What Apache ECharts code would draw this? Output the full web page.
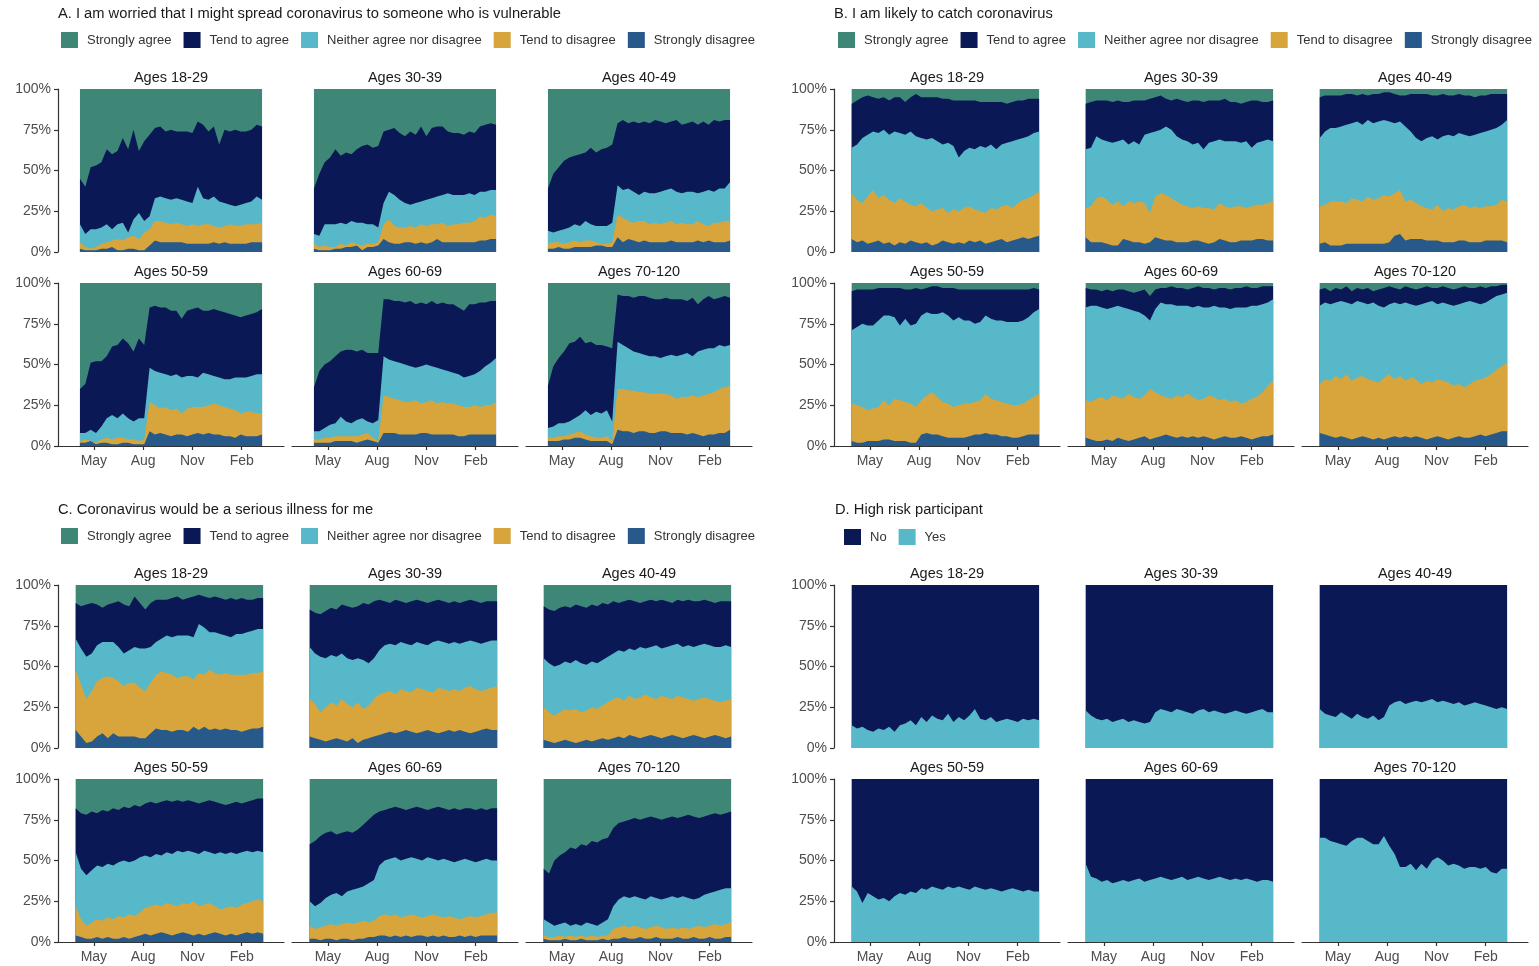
<!DOCTYPE html>
<html><head><meta charset="utf-8">
<script src="https://cdn.jsdelivr.net/npm/echarts@6/dist/echarts.min.js"></script>
<style>html,body{margin:0;padding:0;background:#fff}#c{width:1539px;height:966px}</style>
</head><body><div id="c"></div>
<script>
// ---------- categories / labels ----------
const titles = ['A. I am worried that I might spread coronavirus to someone who is vulnerable',
  'B. I am likely to catch coronavirus', 'C. Coronavirus would be a serious illness for me', 'D. High risk participant'];
const responses = ['Strongly agree','Tend to agree','Neither agree nor disagree','Tend to disagree','Strongly disagree'];
const riskLabels = ['No','Yes'];
const ageGroups = ['Ages 18-29','Ages 30-39','Ages 40-49','Ages 50-59','Ages 60-69','Ages 70-120'];
const tickDates = ['2020-05-01','2020-08-01','2020-11-01','2021-02-01'];
const tickLabels = ['May','Aug','Nov','Feb'];

// survey dates
const datesA = ['2020-04-05','2020-04-15','2020-04-25','2020-05-05','2020-05-15','2020-05-25','2020-06-04','2020-06-14','2020-06-24','2020-07-04','2020-07-14','2020-07-24','2020-08-03','2020-08-13','2020-08-23','2020-09-02','2020-09-12','2020-09-22','2020-10-02','2020-10-12','2020-10-22','2020-11-01','2020-11-11','2020-11-21','2020-12-01','2020-12-11','2020-12-21','2020-12-31','2021-01-10','2021-01-20','2021-01-30','2021-02-09','2021-02-19','2021-03-01','2021-03-11'];
const datesBCD = ['2020-03-28','2020-04-07','2020-04-17','2020-04-27','2020-05-07','2020-05-17','2020-05-27','2020-06-06','2020-06-16','2020-06-26','2020-07-06','2020-07-16','2020-07-26','2020-08-05','2020-08-15','2020-08-25','2020-09-04','2020-09-14','2020-09-24','2020-10-04','2020-10-14','2020-10-24','2020-11-03','2020-11-13','2020-11-23','2020-12-03','2020-12-13','2020-12-23','2021-01-02','2021-01-12','2021-01-22','2021-02-01','2021-02-11','2021-02-21','2021-03-03','2021-03-13'];

// ---------- values: cumulative % at the top of each band, counted from the bottom ----------
// _1 = Strongly disagree, _2 = + Tend to disagree, _3 = + Neither, _4 = + Tend to agree (rest = Strongly agree)
const A18_1 = [2,1,1,1,2,2,3,1,1,2,2,1,1,4,7,6,6,6,6,6,5,5,5,5,5,6,5,6,5,5,5,5,6,6,6];
const A18_2 = [6,3,2,3,5,6,7,8,7,9,10,8,12,14,19,19,18,17,18,17,16,17,16,17,17,16,15,16,17,16,16,17,17,17,18];
const A18_3 = [17,11,14,14,15,17,14,17,18,12,20,24,19,22,33,34,33,32,33,32,31,30,40,33,32,34,31,30,29,28,29,30,31,34,32];
const A18_4 = [45,40,52,53,55,63,60,62,70,63,75,62,68,72,76,77,74,75,74,74,74,73,80,78,74,77,66,75,74,75,74,74,75,78,77];
const A30_1 = [2,1,1,1,2,2,3,3,4,1,3,3,4,8,6,5,5,6,6,5,6,5,6,8,6,6,6,6,6,6,6,7,7,8,8];
const A30_2 = [5,3,4,3,3,5,4,6,5,4,5,5,6,17,20,16,15,15,16,15,17,16,17,17,18,16,17,17,18,18,19,22,21,23,22];
const A30_3 = [11,10,17,17,17,18,17,19,18,18,17,17,15,30,37,35,32,30,29,30,31,32,33,34,35,36,35,35,35,36,35,37,37,38,38];
const A30_4 = [39,48,55,58,63,59,61,60,63,65,66,64,65,74,75,76,73,71,74,72,77,71,76,77,77,74,73,73,72,74,73,77,78,79,78];
const A40_1 = [2,2,3,2,2,3,3,3,3,4,4,3,3,9,6,8,7,6,7,6,6,6,6,7,6,6,6,6,7,6,7,6,6,6,7];
const A40_2 = [5,6,6,5,6,7,6,7,7,6,5,5,6,23,21,19,18,19,19,17,18,17,18,19,17,18,17,17,19,17,16,18,18,19,19];
const A40_3 = [13,12,13,14,15,17,16,19,17,16,16,16,18,41,38,39,37,35,37,36,36,37,38,39,37,36,37,37,36,37,38,37,39,39,43];
const A40_4 = [39,48,52,56,58,59,60,61,64,61,63,64,66,79,81,79,80,79,80,79,81,80,79,80,81,78,79,80,78,80,78,81,80,81,81];
const A50_1 = [2,2,3,1,2,2,1,1,2,2,1,1,1,9,7,8,7,6,7,7,6,7,8,7,8,7,7,6,6,5,7,6,6,6,7];
const A50_2 = [3,4,3,2,4,5,4,5,5,4,4,3,4,27,25,23,24,22,23,20,23,24,24,24,25,26,25,24,23,22,20,21,21,20,20];
const A50_3 = [8,8,10,8,12,17,19,17,20,17,15,17,17,48,46,45,44,43,44,42,43,43,42,45,44,43,42,41,41,42,42,42,43,44,44];
const A50_4 = [35,38,51,52,52,55,61,62,66,63,58,66,62,85,86,85,85,83,83,78,83,84,85,83,83,84,83,82,81,80,79,80,81,82,84];
const A60_1 = [2,2,2,2,3,3,3,3,2,3,4,3,2,8,8,8,7,7,7,7,8,8,7,7,7,7,7,6,6,7,7,7,7,7,7];
const A60_2 = [4,4,5,5,6,6,6,6,6,7,8,5,3,31,30,29,28,27,27,28,26,27,28,26,27,26,26,25,24,24,25,24,25,25,27];
const A60_3 = [9,9,11,13,14,18,15,14,16,17,15,14,16,55,53,52,51,50,49,48,49,50,49,48,47,46,45,44,42,43,44,46,49,51,54];
const A60_4 = [36,46,50,52,55,58,59,59,58,59,57,57,57,90,90,89,89,88,89,87,88,87,89,87,88,87,87,85,83,87,87,88,88,89,89];
const A70_1 = [3,3,3,4,4,5,5,4,3,3,3,3,1,10,9,9,8,9,9,8,8,9,9,8,8,8,7,8,7,6,7,7,8,8,10];
const A70_2 = [5,5,6,6,7,8,9,7,6,5,5,6,3,35,35,34,34,33,33,32,32,32,32,31,29,30,30,31,30,31,32,33,35,36,37];
const A70_3 = [11,12,14,14,15,17,19,22,19,21,20,22,15,64,62,60,58,57,56,55,55,54,55,56,55,56,57,55,58,59,60,60,62,61,62];
const A70_4 = [37,49,54,58,63,64,67,63,64,62,62,61,60,93,92,92,91,92,92,91,90,90,91,90,90,90,89,91,87,90,92,90,91,92,91];

const B18_1 = [8,6,7,5,6,7,5,6,4,6,5,7,6,5,6,4,5,7,6,5,6,5,7,6,7,5,6,7,8,6,7,8,9,8,9,10];
const B18_2 = [36,32,30,34,38,33,35,32,30,33,31,29,28,30,27,25,26,27,24,26,25,27,28,26,25,24,27,26,28,29,27,30,32,33,35,37];
const B18_3 = [64,66,70,72,74,73,75,72,74,73,72,74,71,70,69,70,68,66,67,65,58,62,64,63,65,64,66,63,66,67,68,69,70,71,73,74];
const B18_4 = [91,93,95,96,95,94,95,93,95,95,92,95,97,95,95,95,95,94,94,93,93,93,93,93,92,92,92,92,92,91,92,93,93,94,94,94];
const B30_1 = [9,6,6,6,5,4,4,8,7,6,6,5,6,9,8,7,7,6,6,6,7,7,6,5,6,8,7,6,6,7,7,7,8,8,7,7];
const B30_2 = [27,28,33,34,32,29,31,28,31,30,31,30,24,34,36,35,33,31,29,28,27,28,27,27,26,30,28,27,28,28,27,28,29,29,30,31];
const B30_3 = [63,64,71,69,68,67,68,69,66,68,66,72,73,74,75,77,75,71,69,68,66,67,63,67,68,69,68,68,68,67,68,64,67,68,69,68];
const B30_4 = [91,92,93,93,93,92,93,92,92,93,93,93,94,95,96,94,93,94,93,92,93,93,92,93,93,93,94,92,92,91,92,93,93,92,92,93];
const B40_1 = [5,6,4,4,4,5,5,5,5,5,5,5,5,6,10,11,7,8,8,8,7,7,7,6,6,6,7,7,6,6,6,7,7,7,7,6];
const B40_2 = [28,29,31,31,31,30,33,32,31,34,32,33,35,34,36,38,31,32,30,28,27,26,29,25,27,26,28,29,27,28,27,28,28,29,32,31];
const B40_3 = [70,74,76,76,77,78,79,80,78,81,79,80,81,80,79,80,77,74,70,68,70,71,69,71,72,71,73,72,71,72,73,74,75,76,78,81];
const B40_4 = [95,96,96,96,96,97,97,96,97,96,97,97,98,98,97,96,96,97,97,97,97,96,96,97,96,96,97,96,96,95,96,96,97,97,97,97];
const B50_1 = [3,2,2,3,3,3,4,4,3,3,3,2,2,7,8,7,7,6,5,5,5,5,6,7,7,8,7,7,6,6,5,5,6,7,7,7];
const B50_2 = [26,25,24,22,23,24,28,25,29,28,27,26,24,28,31,33,30,27,26,24,25,26,26,27,28,32,29,28,27,26,25,25,26,28,30,32];
const B50_3 = [71,73,75,74,74,77,80,80,79,74,78,74,75,80,82,81,81,82,80,77,79,77,77,75,76,80,78,77,77,76,76,76,77,79,82,84];
const B50_4 = [95,96,96,96,96,97,97,97,97,97,96,96,97,96,97,98,98,97,97,97,96,96,96,96,96,96,96,96,96,96,96,96,96,96,97,96];
const B60_1 = [5,4,3,3,4,3,5,4,3,4,5,6,4,5,6,7,6,5,6,5,6,5,6,5,4,5,6,5,5,6,5,4,5,6,6,7];
const B60_2 = [28,27,29,30,28,31,30,29,32,30,29,31,35,33,31,30,29,31,30,32,30,28,29,31,30,28,29,27,28,26,27,29,30,33,37,40];
const B60_3 = [85,86,86,85,84,85,86,85,84,83,82,80,77,84,88,87,87,86,86,86,85,86,85,85,86,85,85,84,85,85,85,86,86,87,88,90];
const B60_4 = [97,96,96,95,96,95,96,96,95,94,95,96,92,96,97,97,98,97,97,96,97,98,97,97,96,97,97,96,97,97,98,97,97,98,98,98];
const B70_1 = [8,7,6,5,6,5,4,5,6,5,4,5,4,5,6,5,6,5,6,5,4,5,6,5,4,5,6,5,5,6,7,6,7,8,9,9];
const B70_2 = [38,41,40,43,41,44,40,42,43,41,40,39,42,44,41,43,40,42,41,38,40,39,41,40,39,37,38,36,38,40,41,42,44,47,49,51];
const B70_3 = [86,88,87,88,89,88,87,89,88,87,88,86,85,87,88,87,88,87,86,87,88,89,87,88,87,86,87,88,89,88,87,88,90,92,93,94];
const B70_4 = [96,97,95,97,96,98,95,97,96,97,95,96,97,98,97,96,98,97,96,97,98,97,97,98,97,96,97,98,97,97,98,97,98,98,99,99];

const C18_1 = [11,7,3,4,7,9,6,9,7,7,7,7,6,6,9,12,11,11,10,11,11,10,13,11,13,11,12,11,12,11,11,10,11,12,12,13];
const C18_2 = [48,39,30,35,41,43,44,43,41,38,40,40,37,35,40,45,47,46,45,43,44,44,42,46,45,48,46,45,46,45,45,45,45,46,46,47];
const C18_3 = [67,61,56,58,63,65,65,65,62,58,60,62,61,61,62,65,67,69,68,69,69,69,68,76,74,71,71,70,69,68,70,70,71,72,73,73];
const C18_4 = [89,87,88,89,88,86,88,89,90,88,87,93,89,85,89,91,91,91,92,93,91,92,93,94,93,92,93,92,91,92,91,92,91,91,92,92];
const C30_1 = [7,6,5,4,5,6,5,4,6,3,5,6,7,8,9,10,9,10,11,10,9,10,11,10,9,10,11,10,11,10,9,10,11,12,11,11];
const C30_2 = [30,27,22,25,28,26,30,27,25,28,24,26,30,33,34,35,33,36,35,34,37,36,35,34,37,36,35,36,35,37,38,36,35,36,37,38];
const C30_3 = [62,58,56,55,57,56,58,55,54,55,54,52,55,60,63,64,63,65,64,63,65,64,63,65,66,65,64,65,64,65,66,65,64,65,66,66];
const C30_4 = [85,83,82,84,86,85,88,87,86,87,89,88,90,91,90,89,91,90,89,90,91,90,89,90,91,90,89,90,89,90,91,90,89,90,90,90];
const C40_1 = [5,4,3,4,5,4,3,4,5,4,5,6,5,6,7,6,8,7,6,7,8,7,6,7,8,7,6,7,8,7,6,7,8,7,6,7];
const C40_2 = [25,22,20,22,24,23,24,22,23,25,24,26,28,30,31,29,32,30,31,33,31,30,32,31,30,32,31,30,29,30,31,30,29,28,29,30];
const C40_3 = [55,52,50,51,53,52,54,52,51,53,52,54,56,58,60,59,61,60,62,61,62,63,61,62,63,64,62,63,62,63,64,63,62,62,63,62];
const C40_4 = [87,85,84,86,87,86,88,87,86,88,87,89,88,90,89,90,91,90,89,90,91,90,91,90,89,91,90,91,90,90,91,90,89,90,90,90];
const C50_1 = [4,3,2,2,3,2,3,2,2,3,2,3,4,5,4,5,6,5,4,5,6,5,4,5,4,5,6,5,4,5,4,5,6,5,6,5];
const C50_2 = [22,14,10,12,14,13,15,14,16,15,17,16,18,21,22,23,22,24,23,22,24,23,25,22,23,24,22,20,21,22,21,23,24,25,26,25];
const C50_3 = [55,45,41,44,47,46,48,47,49,50,49,50,52,53,52,54,53,55,54,56,55,56,55,54,56,55,54,55,54,55,54,55,56,55,56,55];
const C50_4 = [82,79,78,80,79,81,80,82,81,83,82,84,83,85,86,85,86,87,86,87,86,87,86,85,86,87,86,85,84,85,86,85,86,87,88,88];
const C60_1 = [2,2,1,2,2,1,2,2,1,2,2,3,3,4,4,3,4,3,4,3,4,4,3,4,3,4,3,3,4,3,4,3,4,4,4,4];
const C60_2 = [10,8,9,10,11,10,11,12,11,12,13,12,13,16,17,16,17,15,16,17,16,15,16,17,16,15,16,15,14,15,16,15,16,17,18,18];
const C60_3 = [25,22,24,27,29,30,28,31,32,33,34,36,38,47,50,51,52,50,51,52,51,50,52,51,50,51,50,49,50,51,50,49,50,51,50,50];
const C60_4 = [60,62,65,67,68,66,67,68,67,69,72,75,78,80,81,82,83,82,81,82,83,82,81,82,83,82,81,82,81,82,82,81,82,81,82,82];
const C70_1 = [2,1,1,1,2,1,1,2,1,1,1,2,1,2,2,3,2,2,3,2,2,3,2,2,2,3,2,2,3,2,2,3,2,2,3,3];
const C70_2 = [4,3,3,4,3,4,3,4,3,4,3,4,4,8,9,10,9,10,9,8,9,10,9,8,9,8,9,8,9,10,9,10,11,10,11,12];
const C70_3 = [14,12,10,11,12,10,11,10,12,11,10,12,14,22,26,28,27,28,27,26,28,27,26,27,28,27,28,27,26,27,29,30,31,32,33,33];
const C70_4 = [45,42,50,53,55,58,57,60,59,62,61,63,64,70,73,74,75,76,75,76,77,76,75,76,77,76,77,78,77,76,77,78,79,78,79,80];

// D: % "Yes" (high risk); the rest is "No"
const D18_yes = [14,12,13,11,10,12,11,13,10,14,15,17,14,19,16,20,18,17,21,16,19,17,20,24,18,17,19,16,17,18,17,16,18,17,18,17];
const D30_yes = [23,20,18,17,18,16,17,18,16,17,16,15,16,22,24,23,22,24,23,22,21,23,24,22,23,22,21,22,23,22,21,22,23,24,22,22];
const D40_yes = [24,21,20,19,22,20,18,21,19,18,20,17,19,26,28,29,27,28,29,28,29,30,28,29,28,27,28,26,27,28,27,26,25,24,25,24];
const D50_yes = [34,31,24,30,28,26,27,25,28,30,29,31,30,33,32,34,33,32,34,33,34,33,32,34,33,32,33,32,31,32,33,32,31,32,31,31];
const D60_yes = [48,40,39,37,38,36,37,38,37,38,39,37,38,39,40,39,38,39,40,38,39,40,39,38,39,40,39,38,39,38,39,38,37,38,38,37];
const D70_yes = [64,64,62,61,60,59,62,64,64,62,60,60,65,59,54,46,46,48,44,48,45,50,52,50,47,48,47,45,46,46,45,46,43,42,45,45];

// ---------- styling / layout ----------
const FONT = '"Liberation Sans", Arial, Helvetica, sans-serif';
const colorOf = {
  'Strongly agree': '#3e8777', 'Tend to agree': '#0a1856', 'Neither agree nor disagree': '#56b8c9',
  'Tend to disagree': '#d7a53b', 'Strongly disagree': '#27598a', 'No': '#0a1856', 'Yes': '#56b8c9'
};
const X_MIN = '2020-02-24', X_MAX = '2021-04-21';
const PANEL_W = 226, PANEL_H = 163, COL_STEP = 234;

const panels = [
  {title: titles[0], tx: 58, ty: 14, left: 58, tops: [89, 283], dates: datesA, legend: {left: 61, top: 32, data: responses},
   facets: [[A18_1,A18_2,A18_3,A18_4],[A30_1,A30_2,A30_3,A30_4],[A40_1,A40_2,A40_3,A40_4],[A50_1,A50_2,A50_3,A50_4],[A60_1,A60_2,A60_3,A60_4],[A70_1,A70_2,A70_3,A70_4]]},
  {title: titles[1], tx: 834, ty: 14, left: 834, tops: [89, 283], dates: datesBCD, legend: {left: 838, top: 32, data: responses},
   facets: [[B18_1,B18_2,B18_3,B18_4],[B30_1,B30_2,B30_3,B30_4],[B40_1,B40_2,B40_3,B40_4],[B50_1,B50_2,B50_3,B50_4],[B60_1,B60_2,B60_3,B60_4],[B70_1,B70_2,B70_3,B70_4]]},
  {title: titles[2], tx: 58, ty: 510, left: 58, tops: [585, 779], dates: datesBCD, legend: {left: 61, top: 528, data: responses},
   facets: [[C18_1,C18_2,C18_3,C18_4],[C30_1,C30_2,C30_3,C30_4],[C40_1,C40_2,C40_3,C40_4],[C50_1,C50_2,C50_3,C50_4],[C60_1,C60_2,C60_3,C60_4],[C70_1,C70_2,C70_3,C70_4]]},
  {title: titles[3], tx: 835, ty: 510, left: 834, tops: [585, 779], dates: datesBCD, legend: {left: 844, top: 529, data: riskLabels},
   facets: [[D18_yes],[D30_yes],[D40_yes],[D50_yes],[D60_yes],[D70_yes]]}
];

const ts = s => new Date(s + 'T00:00:00').getTime();
const tickTs = tickDates.map(ts);
const labelFor = v => { let best = 0, bd = Infinity; tickTs.forEach((t, i) => { const d = Math.abs(t - v); if (d < bd) { bd = d; best = i; } }); return tickLabels[best]; };

const grid = [], xAxis = [], yAxis = [], series = [], graphic = [], legend = [];
let gi = 0;
panels.forEach(p => {
  graphic.push({type: 'text', x: p.tx, y: p.ty, style: {text: p.title, fontSize: 14.7, fontFamily: FONT, fill: '#1a1a1a', align: 'left', verticalAlign: 'middle'}});
  legend.push({left: p.legend.left, top: p.legend.top, data: p.legend.data, orient: 'horizontal', icon: 'rect', padding: 0,
    itemWidth: 17, itemHeight: 16, itemGap: 12, selectedMode: false,
    textStyle: {fontSize: 13, color: '#333', fontFamily: FONT, padding: [0, 0, 0, 4]}});
  p.facets.forEach((f, k) => {
    const col = k % 3, row = Math.floor(k / 3);
    const left = p.left + col * COL_STEP, top = p.tops[row];
    grid.push({left: left, top: top, width: PANEL_W, height: PANEL_H, containLabel: false});
    const bottom = row === 1;
    xAxis.push({type: 'value', gridIndex: gi, min: ts(X_MIN), max: ts(X_MAX), scale: true,
      axisLine: {show: bottom, lineStyle: {color: '#333', width: 1.2}},
      axisTick: {show: bottom, customValues: tickTs, length: 4, lineStyle: {color: '#333', width: 1.2}},
      axisLabel: {show: bottom, customValues: tickTs, formatter: v => labelFor(v), color: '#4d4d4d', fontSize: 14, fontFamily: FONT, margin: 8},
      splitLine: {show: false}});
    const leftCol = col === 0;
    yAxis.push({type: 'value', gridIndex: gi, min: 0, max: 100, interval: 25,
      axisLine: {show: leftCol, lineStyle: {color: '#333', width: 1.2}},
      axisTick: {show: leftCol, length: 4, lineStyle: {color: '#333', width: 1.2}},
      axisLabel: {show: leftCol, formatter: '{value}%', color: '#4d4d4d', fontSize: 14, fontFamily: FONT, margin: 7},
      splitLine: {show: false}});
    graphic.push({type: 'text', x: left + PANEL_W / 2, y: top - 11, style: {text: ageGroups[k], fontSize: 14.5, fontFamily: FONT, fill: '#1a1a1a', align: 'center', verticalAlign: 'middle'}});
    let layers;
    if (f.length === 4) {
      layers = [
        {name: responses[0], vals: p.dates.map(() => 100)},
        {name: responses[1], vals: f[3]},
        {name: responses[2], vals: f[2]},
        {name: responses[3], vals: f[1]},
        {name: responses[4], vals: f[0]}
      ];
    } else {
      layers = [{name: riskLabels[0], vals: p.dates.map(() => 100)}, {name: riskLabels[1], vals: f[0]}];
    }
    layers.forEach(L => {
      const c = colorOf[L.name];
      series.push({type: 'line', name: L.name, xAxisIndex: gi, yAxisIndex: gi, color: c,
        data: p.dates.map((d, i) => [ts(d), L.vals[i]]),
        symbol: 'none', showSymbol: false, silent: true, animation: false,
        lineStyle: {width: 0}, itemStyle: {color: c}, areaStyle: {color: c, opacity: 1}});
    });
    gi++;
  });
});

const chart = echarts.init(document.getElementById('c'), null, {renderer: 'canvas'});
chart.setOption({backgroundColor: '#fff', animation: false, grid, xAxis, yAxis, series, legend, graphic, tooltip: {show: false}});
</script></body></html>
